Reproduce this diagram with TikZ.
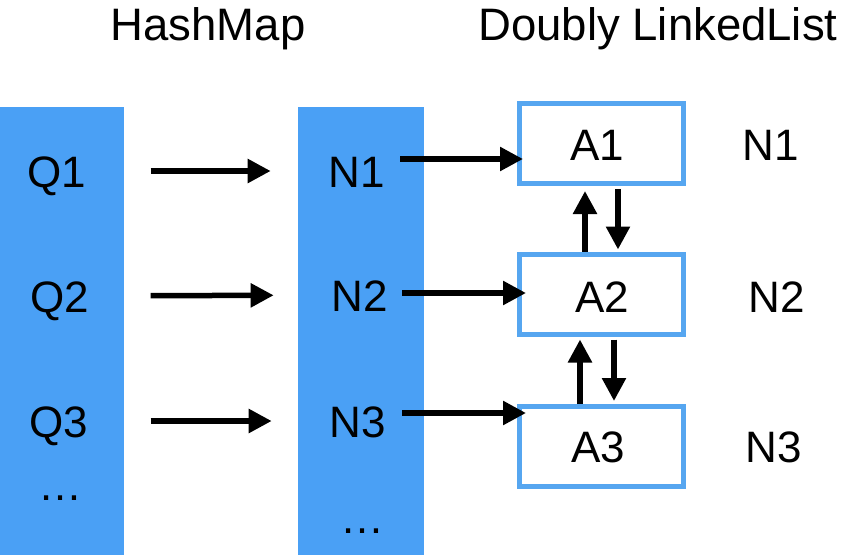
\documentclass[tikz,border=0pt]{standalone}
\usepackage{fontspec}
\setmainfont{Liberation Sans}
\usetikzlibrary{arrows.meta,calc}
\definecolor{colfill}{RGB}{74,160,245}
\definecolor{boxline}{RGB}{86,166,240}
\tikzset{
  lbl/.style={inner sep=0pt, text height=32pt, text depth=0pt, font=\fontsize{44}{50}\selectfont},
  ttl/.style={inner sep=0pt, text height=32pt, text depth=0pt, font=\fontsize{45.5}{50}\selectfont},
  col/.style={fill=colfill, draw=none, inner sep=0pt, outer sep=0pt},
  abox/.style={draw=boxline, line width=5pt, fill=white, minimum width=164pt, minimum height=80pt, inner sep=0pt},
  arr/.style={line width=5.5pt, -{Triangle[length=23pt,width=23pt]}}
}
\begin{document}
\begin{tikzpicture}[x=1pt,y=-1pt]
\useasboundingbox (0,0) rectangle (843,555);
% titles
\node[ttl] (t1) at (208,24) {HashMap};
\node[ttl] (t2) at (658,24) {Doubly LinkedList};
% columns
\node[col, minimum width=124pt, minimum height=448pt] (hm) at (62,331) {};
\node[col, minimum width=126pt, minimum height=448pt] (nc) at (361,331) {};
% left column labels
\node[lbl] (q1) at (57,171) {Q1};
\node[lbl] (q2) at (60,296) {Q2};
\node[lbl] (q3) at (59,421) {Q3};
\node[lbl] (qd) at (60,484) {\ldots};
% middle column labels
\node[lbl] (n1) at (357,171) {N1};
\node[lbl] (n2) at (360,295) {N2};
\node[lbl] (n3) at (358,421) {N3};
\node[lbl] (nd) at (362,517) {\ldots};
% boxes
\node[abox] (a1) at (601.5,143.5) {};
\node[abox] (a2) at (601.5,294) {};
\node[abox] (a3) at (601.5,446.5) {};
\node[lbl] (a1t) at (597,144) {A1};
\node[lbl] (a2t) at (602,296) {A2};
\node[lbl] (a3t) at (598,446) {A3};
% right labels
\node[lbl] (r1) at (771,144) {N1};
\node[lbl] (r2) at (777,296) {N2};
\node[lbl] (r3) at (774,446) {N3};
% arrows hashmap -> nodes
\draw[arr, shorten <=64pt, shorten >=58pt] (q1) -- (n1);
\draw[arr, shorten <=61pt, shorten >=58pt] (q2) -- (n2);
\draw[arr, shorten <=62pt, shorten >=58pt] (q3) -- (n3);
% arrows nodes -> list
\coordinate (s1) at (400,159);
\coordinate (s2) at (402,293);
\coordinate (s3) at (402,413);
\draw[arr, shorten >=-6pt] (s1) -- (s1 -| a1.west);
\draw[arr, shorten >=-9pt] (s2) -- (s2 -| a2.west);
\draw[arr, shorten >=-9pt] (s3) -- (s3 -| a3.west);
% vertical arrows
\draw[arr] ([xshift=16.5pt,yshift=-3pt]a1.south) -- ([xshift=16.5pt,yshift=2pt]a2.north);
\draw[arr] ([xshift=-16.5pt]a2.north) -- ([xshift=-16.5pt,yshift=-5pt]a1.south);
\draw[arr] ([xshift=12.5pt,yshift=-3pt]a2.south) -- ([xshift=12.5pt,yshift=3pt]a3.north);
\draw[arr] ([xshift=-21.5pt]a3.north) -- ([xshift=-21.5pt,yshift=-3pt]a2.south);
\end{tikzpicture}
\end{document}
